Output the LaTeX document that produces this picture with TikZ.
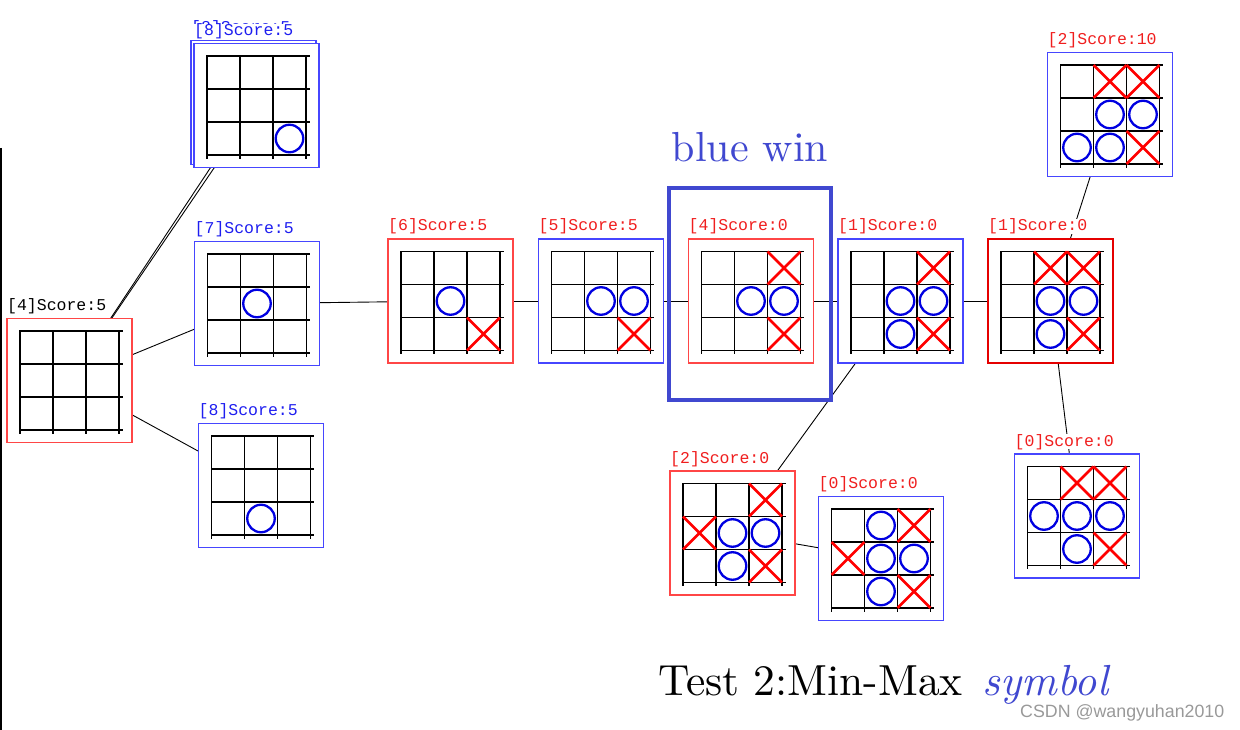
\documentclass[tikz,border=0pt]{standalone}
\usepackage{fontspec}
\newfontfamily\labfont{Liberation Mono}
\newfontfamily\wmfont{Liberation Sans}
\newfontfamily\bigfont{lmroman10-regular}[Extension=.otf, ItalicFont=lmroman10-italic]
\usetikzlibrary{positioning,backgrounds,shapes.misc}

\definecolor{boxred}{RGB}{255,70,70}
\definecolor{boxblue}{RGB}{70,70,255}
\definecolor{labred}{RGB}{240,30,30}
\definecolor{labblue}{RGB}{30,30,240}
\definecolor{oblue}{RGB}{0,0,225}
\definecolor{xred}{RGB}{255,0,0}
\definecolor{winblue}{RGB}{64,72,208}

% 3x3 board lines round a node centre
\newcommand\gridon[1]{%
  \begin{scope}[shift={(#1.center)}]
    \foreach \k in {0,...,3} {
      \draw[gridline] (33*\k-49.5,-49.5) -- ++(0,102);
      \draw[gridline] (-49.5,33*\k-49.5) -- ++(102,0);
    }
  \end{scope}}

\begin{document}
\begin{tikzpicture}
            [
            x=1pt, y=-1pt,
            board/.style n args={3}{draw=#1, fill=white, line width=1.3pt,
                minimum width=125pt, minimum height=124pt, inner sep=0pt,
                outer sep=0pt, label={[lab, text=#2]north west:{#3}}},
            lab/.style={font=\labfont\fontsize{16.5}{18}\selectfont,
                fill=white, inner sep=0pt, anchor=base west, yshift=8pt},
            gridline/.style={line width=1.2pt, line cap=rect},
            oring/.style={circle, draw=oblue, line width=2.3pt,
                minimum size=27.5pt, inner sep=0pt},
            xcross/.style={cross out, draw=xred, line width=2.8pt,
                minimum size=30pt, inner sep=0pt},
            link/.style={line width=0.9pt},
            winbox/.style={draw=winblue, line width=3.2pt, minimum width=162pt,
                minimum height=212pt, inner sep=0pt, outer sep=0pt}
            ]
            \useasboundingbox (0,0) rectangle (1240,730);

            % first move
            \node (n4) [board={boxred}{black}{[4]Score:5}] at (69.5,380.5) {};
            \node (n8s) [board={boxblue}{labblue}{[8]Score:5}] at (253.5,102.5) {};
            \node (n8a) [board={boxblue}{labblue}{[8]Score:5}] at (256.5,105.5) {};
            \node (n7) [board={boxblue}{labblue}{[7]Score:5}] at (257,303.5) {};
            \node (n8b) [board={boxblue}{labblue}{[8]Score:5}] at (261,485.5) {};

            % main line
            \node (n6) [board={boxred}{labred}{[6]Score:5}] at (450.5,301) {};
            \node (n5) [board={boxblue}{labred}{[5]Score:5}] at (601,301) {};
            \node (n4b) [board={boxred}{labred}{[4]Score:0}] at (751,301) {};
            \node (n1a) [board={boxblue}{labred}{[1]Score:0}] at (900.5,301) {};
            \node (n1b) [board={red!90!black}{labred}{[1]Score:0}, line width=2.2pt] at (1050.5,301) {};

            % end games
            \node (n2a) [board={boxblue}{labred}{[2]Score:10}] at (1110,114.5) {};
            \node (n0a) [board={boxblue}{labred}{[0]Score:0}] at (1077,516) {};
            \node (n2b) [board={boxred}{labred}{[2]Score:0}] at (732.5,533) {};
            \node (n0b) [board={boxblue}{labred}{[0]Score:0}] at (881,558.5) {};

            \node (win) [winbox] at (750,294) {};
            \node (wintxt) [above=26pt of win, inner sep=0pt, text=winblue,
                font=\bigfont\fontsize{42}{46}\selectfont] {blue win};

            \begin{scope}[on background layer]
            \foreach \i/\j in {n4/n8s,n4/n8a,n4/n7,n4/n8b,n7/n6,n6/n5,n5/n4b,
                n4b/n1a,n1a/n1b,n1b/n2a,n1b/n0a,n1a/n2b,n2b/n0b}
            \draw [link] (\i) -- (\j);
            \end{scope}

            \foreach \b in {n4,n8a,n7,n8b,n6,n5,n4b,n1a,n1b,n2a,n0a,n2b,n0b}
            \gridon{\b};

            % pieces: board/column/row/kind
            \foreach \b/\c/\r/\m in {n8a/3/3/oring, n7/2/2/oring, n8b/2/3/oring,
                n6/2/2/oring, n6/3/3/xcross,
                n5/2/2/oring, n5/3/2/oring, n5/3/3/xcross,
                n4b/3/1/xcross, n4b/2/2/oring, n4b/3/2/oring, n4b/3/3/xcross,
                n1a/3/1/xcross, n1a/2/2/oring, n1a/3/2/oring, n1a/2/3/oring, n1a/3/3/xcross,
                n1b/2/1/xcross, n1b/3/1/xcross, n1b/2/2/oring, n1b/3/2/oring,
                n1b/2/3/oring, n1b/3/3/xcross,
                n2a/2/1/xcross, n2a/3/1/xcross, n2a/2/2/oring, n2a/3/2/oring,
                n2a/1/3/oring, n2a/2/3/oring, n2a/3/3/xcross,
                n0a/2/1/xcross, n0a/3/1/xcross, n0a/1/2/oring, n0a/2/2/oring,
                n0a/3/2/oring, n0a/2/3/oring, n0a/3/3/xcross,
                n2b/3/1/xcross, n2b/1/2/xcross, n2b/2/2/oring, n2b/3/2/oring,
                n2b/2/3/oring, n2b/3/3/xcross,
                n0b/2/1/oring, n0b/3/1/xcross, n0b/1/2/xcross, n0b/2/2/oring,
                n0b/3/2/oring, n0b/2/3/oring, n0b/3/3/xcross}
            \node [\m] at ([shift={(33*\c-66,33*\r-66)}]\b.center) {};

            \node (title) [anchor=base west, inner sep=0pt,
                font=\bigfont\fontsize{43.5}{50}\selectfont] at (658,695)
                {Test 2:Min-Max\hspace{0.45em}\textcolor{winblue}{\textit{symbol}}};
            \node (mark) [anchor=base west, inner sep=0pt, text=black!40,
                font=\wmfont\fontsize{17.8}{20}\selectfont] at (1020,717)
                {CSDN @wangyuhan2010};
            \draw [line width=2pt] (1,148) -- (1,730);
        \end{tikzpicture}
\end{document}
